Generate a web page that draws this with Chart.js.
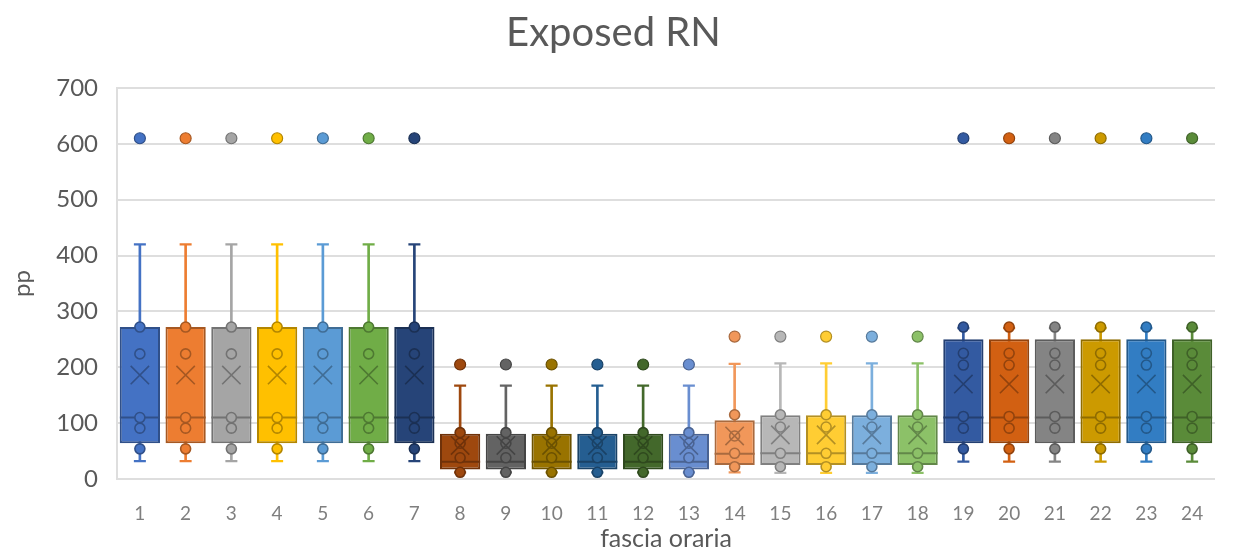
<!DOCTYPE html>
<html>
<head>
<meta charset="utf-8">
<title>Exposed RN</title>
<script src="https://cdn.jsdelivr.net/npm/chart.js@4.4.1/dist/chart.umd.min.js"></script>
<style>
  html, body { margin: 0; padding: 0; background: #ffffff; }
  #wrap { width: 1237px; height: 551px; }
</style>
</head>
<body>
<div id="wrap"><canvas id="chart" width="1237" height="551"></canvas></div>
<script>
// Time slots (fascia oraria)
const hours = ['1','2','3','4','5','6','7','8','9','10','11','12',
               '13','14','15','16','17','18','19','20','21','22','23','24'];

// One colour per time slot
const boxColors = [
  '#4472C4','#ED7D31','#A5A5A5','#FFC000','#5B9BD5','#70AD47',
  '#264478','#9E480E','#636363','#997300','#255E91','#43682B',
  '#698ED0','#F1975A','#B7B7B7','#FFCD33','#7CAFDD','#8CC168',
  '#335AA1','#D26012','#848484','#CC9A00','#327DC3','#5A8B39'
];

// Box-and-whisker statistics per time slot (pp)
const whiskerLow  = [32, 32, 32, 32, 32, 32, 32, 12, 12, 12, 12, 12, 12, 12, 11, 11, 11, 11, 31, 31, 31, 31, 31, 31];
const quartile1   = [64, 64, 64, 64, 64, 64, 64, 17, 17, 17, 17, 17, 17, 25, 25, 25, 25, 25, 64, 64, 64, 64, 64, 64];
const medians     = [110, 110, 110, 110, 110, 110, 110, 31, 31, 31, 31, 31, 31, 45, 46, 46, 46, 46, 110, 110, 110, 110, 110, 110];
const quartile3   = [272, 272, 272, 272, 272, 272, 272, 81, 81, 81, 81, 81, 81, 105, 114, 114, 114, 114, 250, 250, 250, 250, 250, 250];
const whiskerHigh = [420, 420, 420, 420, 420, 420, 420, 167, 167, 167, 167, 167, 167, 206, 207, 207, 207, 207, 270, 270, 270, 270, 270, 270];
const means       = [186, 186, 186, 186, 186, 186, 186, 60, 60, 60, 60, 60, 60, 77, 79, 79, 79, 79, 170, 170, 170, 170, 170, 170];

// Individual observations inside the whiskers
const innerPoints = [
  [54, 91, 110, 224, 272], [54, 91, 110, 224, 272], [54, 91, 110, 224, 272],
  [54, 91, 110, 224, 272], [54, 91, 110, 224, 272], [54, 91, 110, 224, 272],
  [54, 91, 110, 224, 272],
  [12, 38, 64, 83], [12, 38, 64, 83], [12, 38, 64, 83],
  [12, 38, 64, 83], [12, 38, 64, 83], [12, 38, 64, 83],
  [22, 46, 77, 115],
  [22, 46, 93, 115], [22, 46, 93, 115], [22, 46, 93, 115], [22, 46, 93, 115],
  [54, 91, 112, 204, 225, 272], [54, 91, 112, 204, 225, 272], [54, 91, 112, 204, 225, 272],
  [54, 91, 112, 204, 225, 272], [54, 91, 112, 204, 225, 272], [54, 91, 112, 204, 225, 272]
];

// Outliers above the upper whisker
const outliers = [610, 610, 610, 610, 610, 610, 610, 205, 205, 205, 205, 205, 205,
                  255, 255, 255, 255, 255, 610, 610, 610, 610, 610, 610];

// Y axis ticks
const yMin = 0, yMax = 700, yStep = 100;

// ---- styling helpers ----
function shade(hex, f) {
  const n = parseInt(hex.slice(1), 16);
  const r = Math.round(((n >> 16) & 255) * f);
  const g = Math.round(((n >> 8) & 255) * f);
  const b = Math.round((n & 255) * f);
  return 'rgb(' + r + ',' + g + ',' + b + ')';
}
const edgeColors = boxColors.map(c => shade(c, 0.7));
const fillOf = ctx => (ctx.raw && ctx.raw.c !== undefined) ? boxColors[ctx.raw.c] : 'rgba(0,0,0,0)';
const edgeOf = ctx => (ctx.raw && ctx.raw.c !== undefined) ? edgeColors[ctx.raw.c] : 'rgba(0,0,0,0)';

function perSlot(values) {
  return values.map((v, i) => ({ x: hours[i], y: v, c: i }));
}
const innerData = [];
innerPoints.forEach((vals, i) => vals.forEach(v => innerData.push({ x: hours[i], y: v, c: i })));

const pointSet = (label, data, extra) => Object.assign({
  type: 'line',
  label: label,
  data: data,
  showLine: false,
  borderWidth: 0,
  pointBackgroundColor: fillOf,
  pointBorderColor: edgeOf,
  pointHoverRadius: 0
}, extra);

const FONT = 'Lato, "Open Sans", sans-serif';

new Chart(document.getElementById('chart'), {
  type: 'bar',
  data: {
    labels: hours,
    datasets: [
      {
        label: 'whiskers',
        data: whiskerLow.map((lo, i) => [lo, whiskerHigh[i]]),
        backgroundColor: boxColors,
        borderWidth: 0,
        barThickness: 2,
        grouped: false,
        order: 7
      },
      {
        label: 'box',
        data: quartile1.map((q, i) => [q, quartile3[i]]),
        backgroundColor: boxColors,
        borderColor: edgeColors,
        borderWidth: 2,
        borderSkipped: false,
        categoryPercentage: 1.0,
        barPercentage: 0.88,
        grouped: false,
        order: 6
      },
      pointSet('caps low', perSlot(whiskerLow), {
        pointStyle: 'line', pointRadius: 6, pointBorderWidth: 2.2,
        pointBorderColor: fillOf, order: 5
      }),
      pointSet('caps high', perSlot(whiskerHigh), {
        pointStyle: 'line', pointRadius: 6, pointBorderWidth: 2.2,
        pointBorderColor: fillOf, order: 5
      }),
      pointSet('median', perSlot(medians), {
        pointStyle: 'line', pointRadius: 20, pointBorderWidth: 2, order: 4
      }),
      pointSet('mean', perSlot(means), {
        pointStyle: 'crossRot', pointRadius: 13, pointBorderWidth: 1.6, order: 2
      }),
      pointSet('points', innerData, {
        pointStyle: 'circle', pointRadius: 5, pointBorderWidth: 1.6, order: 3
      }),
      pointSet('outliers', perSlot(outliers), {
        pointStyle: 'circle', pointRadius: 5.5, pointBorderWidth: 1.2, order: 3
      })
    ]
  },
  options: {
    responsive: false,
    animation: false,
    events: [],
    devicePixelRatio: 1,
    layout: { padding: { left: 0, right: 10, top: 0, bottom: 0 } },
    plugins: {
      legend: { display: false },
      tooltip: { enabled: false },
      title: {
        display: true,
        text: 'Exposed RN',
        color: '#595959',
        font: { family: FONT, size: 40, weight: 'normal', lineHeight: 1.2 },
        padding: { top: 9, bottom: 31 }
      }
    },
    scales: {
      x: {
        type: 'category',
        offset: true,
        grid: { display: false, drawTicks: false },
        border: { display: false },
        ticks: {
          color: '#7f7f7f',
          font: { family: FONT, size: 19 },
          padding: 23,
          maxRotation: 0,
          autoSkip: false
        },
        title: {
          display: true,
          text: 'fascia oraria',
          color: '#595959',
          font: { family: FONT, size: 25, lineHeight: 1.0 },
          padding: { top: 0, bottom: 0 }
        },
        afterFit: s => { s.height = 72; }
      },
      y: {
        min: yMin,
        max: yMax,
        ticks: {
          stepSize: yStep,
          color: '#595959',
          font: { family: FONT, size: 24 },
          padding: 19
        },
        grid: { color: '#dedede', lineWidth: 2, drawTicks: false },
        border: { display: true, color: '#dedede', width: 2 },
        title: {
          display: true,
          text: 'pp',
          color: '#595959',
          font: { family: FONT, size: 24, lineHeight: 1.2 },
          padding: { top: 8, bottom: 0 }
        },
        afterFit: s => { s.width = 117; }
      }
    }
  }
});
</script>
</body>
</html>
